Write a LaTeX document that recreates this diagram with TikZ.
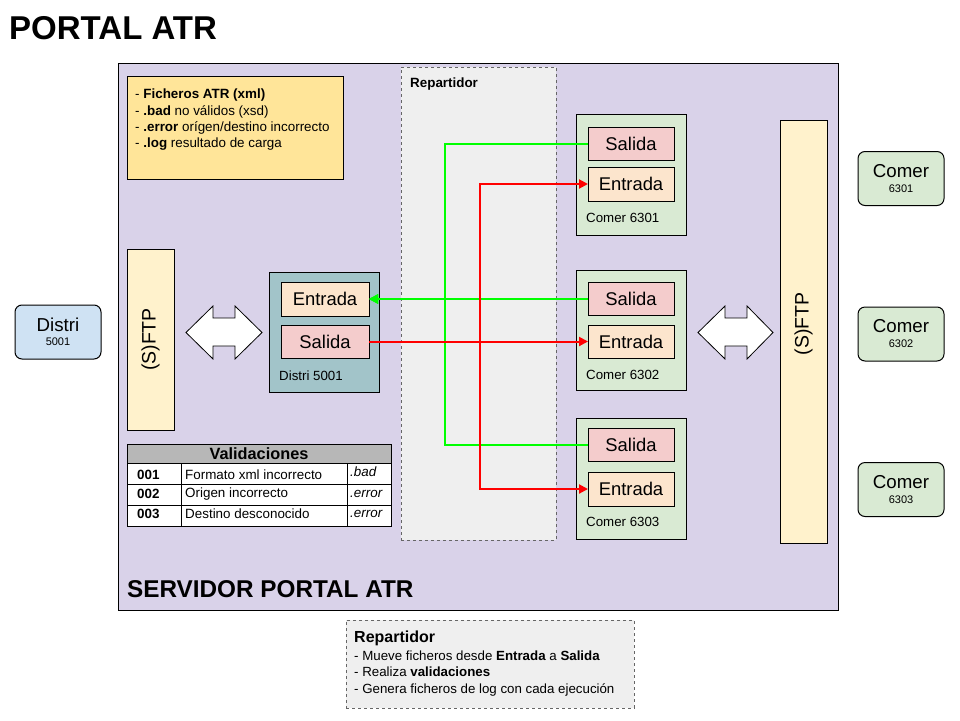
\documentclass[tikz,border=0pt]{standalone}
\usepackage{fontspec}
\setmainfont{Liberation Sans}
\usetikzlibrary{arrows.meta}
\definecolor{srvfill}{HTML}{D9D2E9}
\definecolor{notefill}{HTML}{FFE599}
\definecolor{repfill}{HTML}{EFEFEF}
\definecolor{ftpfill}{HTML}{FFF2CC}
\definecolor{distfill}{HTML}{A2C4C9}
\definecolor{entfill}{HTML}{FCE5CD}
\definecolor{salfill}{HTML}{F4CCCC}
\definecolor{comfill}{HTML}{D9EAD3}
\definecolor{extdist}{HTML}{CFE2F3}
\definecolor{hdrfill}{HTML}{B7B7B7}
\definecolor{dashgray}{HTML}{666666}
\definecolor{gline}{HTML}{00FF00}
\definecolor{rline}{HTML}{FF0000}
\begin{document}
\begin{tikzpicture}[x=1pt,y=-1pt,
  box/.style={draw=black,line width=1pt,inner sep=0pt,outer sep=0pt},
  sub/.style={box,minimum width=86pt,minimum height=33pt,font=\fontsize{18.4}{21}\selectfont},
  lbl/.style={anchor=west,inner sep=0pt,font=\fontsize{13.3}{15}\selectfont},
  ext/.style={box,rounded corners=7pt,minimum width=86pt,minimum height=54pt,align=center},
  dblarrow/.style={draw=black,fill=white,line width=0.8pt},
  flowg/.style={draw=gline,line width=2pt,-{Triangle[length=9pt,width=9pt]}},
  flowr/.style={draw=rline,line width=2pt,-{Triangle[length=9pt,width=9pt]}},
  cell/.style={draw=black,line width=0.8pt,fill=white}]
\useasboundingbox (0,0) rectangle (960,720);
\fill[white] (0,0) rectangle (960,720);
% title
\node[anchor=west,inner sep=0pt,font=\fontsize{33}{36}\bfseries] (title) at (9,28) {PORTAL ATR};
% server
\node[box,fill=srvfill,minimum width=720pt,minimum height=547pt] (srv) at (478,336.5) {};
\node[anchor=west,inner sep=0pt,font=\fontsize{24.3}{28}\bfseries] (srvlbl) at (127,589) {SERVIDOR PORTAL ATR};
% note
\node[box,fill=notefill,minimum width=216pt,minimum height=103pt] (note) at (235,127.5) {};
\node[anchor=north west,inner sep=0pt,align=left,font=\fontsize{13.4}{16.3}\selectfont] (notetxt) at (135,89)
 {- \textbf{Ficheros ATR (xml)}\\- \textbf{.bad} no válidos (xsd)\\- \textbf{.error} orígen/destino incorrecto\\- \textbf{.log} resultado de carga};
% repartidor area
\node[draw=dashgray,dashed,line width=0.7pt,fill=repfill,minimum width=155pt,minimum height=473pt,inner sep=0pt] (rep) at (478.5,303.5) {};
\node[anchor=west,inner sep=0pt,font=\fontsize{13.4}{15}\bfseries] (replbl) at (410,84) {Repartidor};
% SFTP bars
\node[box,fill=ftpfill,minimum width=47pt,minimum height=181pt] (ftpl) at (150.5,339.5) {};
\node[rotate=90,font=\fontsize{19.5}{22}\selectfont] (ftpltxt) at (ftpl) {(S)FTP};
\node[box,fill=ftpfill,minimum width=47pt,minimum height=423pt] (ftpr) at (803.5,331.5) {};
\node[rotate=90,font=\fontsize{19.5}{22}\selectfont] (ftprtxt) at (803.5,324) {(S)FTP};
% double arrows
\draw[dblarrow] (186,332.5) -- (213,306) -- (213,318) -- (235,318) -- (235,306) -- (262,332.5)
  -- (235,359) -- (235,346) -- (213,346) -- (213,359) -- cycle;
\draw[dblarrow] (698,332.5) -- (725,306) -- (725,318) -- (747,318) -- (747,306) -- (773,332.5)
  -- (747,359) -- (747,346) -- (725,346) -- (725,359) -- cycle;
% distri inside
\node[box,fill=distfill,minimum width=110pt,minimum height=120pt] (dist) at (324,332) {};
\node[sub,fill=entfill,minimum width=88pt,minimum height=34pt] (de) at (325,299) {Entrada};
\node[sub,fill=salfill,minimum width=88pt,minimum height=33pt] (ds) at (325,341.5) {Salida};
\node[lbl] (dlbl) at (279,376) {Distri 5001};
% comer inside
\node[box,fill=comfill,minimum width=110pt,minimum height=121pt] (c1) at (631,174.5) {};
\node[sub,fill=salfill] (c1s) at (631,143.5) {Salida};
\node[sub,fill=entfill,minimum height=34pt] (c1e) at (631,184) {Entrada};
\node[lbl] (c1l) at (586,218) {Comer 6301};
\node[box,fill=comfill,minimum width=110pt,minimum height=120pt] (c2) at (631,330) {};
\node[sub,fill=salfill] (c2s) at (631,299) {Salida};
\node[sub,fill=entfill] (c2e) at (631,341.5) {Entrada};
\node[lbl] (c2l) at (586,375) {Comer 6302};
\node[box,fill=comfill,minimum width=110pt,minimum height=121pt] (c3) at (631,478.5) {};
\node[sub,fill=salfill] (c3s) at (631,444.5) {Salida};
\node[sub,fill=entfill,minimum height=34pt] (c3e) at (631,489) {Entrada};
\node[lbl] (c3l) at (586,522) {Comer 6303};
% external
\node[ext,fill=extdist] (xd) at (58,332) {\fontsize{18.7}{19}\selectfont Distri\\[2pt]\fontsize{11}{11}\selectfont 5001};
\node[ext,fill=comfill] (x1) at (901,178.5) {\fontsize{18.7}{19}\selectfont Comer\\[3pt]\fontsize{11}{11}\selectfont 6301};
\node[ext,fill=comfill] (x2) at (901,334) {\fontsize{18.7}{19}\selectfont Comer\\[3pt]\fontsize{11}{11}\selectfont 6302};
\node[ext,fill=comfill] (x3) at (901,489.5) {\fontsize{18.7}{19}\selectfont Comer\\[3pt]\fontsize{11}{11}\selectfont 6303};
% flows
\coordinate (gx) at (445,299);
\coordinate (rx) at (480,341.5);
\draw[flowg] (c1s.west) -| (gx) -- (de.east);
\draw[flowg] (c3s.west) -| (gx) -- (de.east);
\draw[flowg] (c2s.west) -- (de.east);
\draw[flowr] (ds.east) -- (c2e.west);
\draw[flowr] (rx) |- (c1e.west);
\draw[flowr] (rx) |- (c3e.west);
% validations table
\draw[cell,fill=hdrfill] (127,444) rectangle (391,463);
\node[font=\fontsize{16.3}{18}\bfseries,inner sep=0pt] (vh) at (259,454) {Validaciones};
\draw[cell] (127,463) rectangle (181,484);
\draw[cell] (181,463) rectangle (347,484);
\draw[cell] (347,463) rectangle (391,484);
\draw[cell] (127,484) rectangle (181,505);
\draw[cell] (181,484) rectangle (347,505);
\draw[cell] (347,484) rectangle (391,505);
\draw[cell] (127,505) rectangle (181,526);
\draw[cell] (181,505) rectangle (347,526);
\draw[cell] (347,505) rectangle (391,526);
\node[lbl,font=\fontsize{13.4}{15}\bfseries] (v1a) at (137,475) {001};
\node[lbl,font=\fontsize{13.4}{15}\selectfont] (v1b) at (185,475) {Formato xml incorrecto};
\node[lbl,font=\fontsize{13.4}{15}\itshape] (v1c) at (350,472) {.bad};
\node[lbl,font=\fontsize{13.4}{15}\bfseries] (v2a) at (137,494) {002};
\node[lbl,font=\fontsize{13.4}{15}\selectfont] (v2b) at (185,494) {Origen incorrecto};
\node[lbl,font=\fontsize{13.4}{15}\itshape] (v2c) at (350,494) {.error};
\node[lbl,font=\fontsize{13.4}{15}\bfseries] (v3a) at (137,514) {003};
\node[lbl,font=\fontsize{13.4}{15}\selectfont] (v3b) at (185,514) {Destino desconocido};
\node[lbl,font=\fontsize{13.4}{15}\itshape] (v3c) at (350,514) {.error};
% bottom note
\node[draw=dashgray,dashed,line width=0.7pt,fill=repfill,minimum width=288pt,minimum height=88pt,inner sep=0pt] (bnote) at (490,664) {};
\node[anchor=north west,inner sep=0pt,align=left,font=\fontsize{13.3}{16.3}\selectfont] (bnotetxt) at (354,631)
 {{\fontsize{16}{16}\bfseries Repartidor}\\[1.5pt]- Mueve ficheros desde \textbf{Entrada} a \textbf{Salida}\\- Realiza \textbf{validaciones}\\- Genera ficheros de log con cada ejecución};
\end{tikzpicture}
\end{document}
